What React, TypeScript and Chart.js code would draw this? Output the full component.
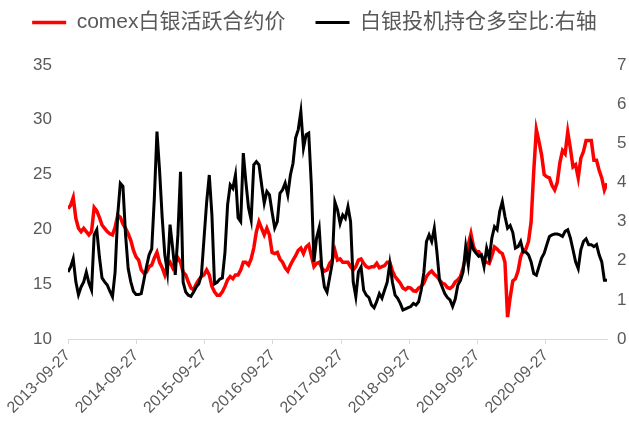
import React, { useEffect, useRef } from "react";
import { Chart, registerables } from "chart.js";

Chart.register(...registerables);

const FONT = '"Liberation Sans", "Noto Sans CJK SC", sans-serif';
const LEGEND_FONT = '"Liberation Sans Narrow", "Liberation Sans", "Noto Sans CJK SC", sans-serif';
const TEXT_COLOR = "#595959";

const startDate = "2013-09-27";
const stepDays = 14;
const tickLabels = [
  "2013-09-27", "2014-09-27", "2015-09-27", "2016-09-27",
  "2017-09-27", "2018-09-27", "2019-09-27", "2020-09-27",
];
const seriesNames = ["comex白银活跃合约价", "白银投机持仓多空比:右轴"];

// comex silver, left axis (one value every two weeks from startDate)
const silverPrice = [
  21.9, 22.2, 22.9, 21.0, 20.1, 19.8, 20.1, 19.8, 19.5, 19.8,
  22.0, 21.7, 21.1, 20.4, 20.1, 19.8, 19.6, 19.5, 20.2, 21.3,
  21.1, 20.5, 20.1, 19.6, 19.0, 18.1, 17.5, 17.2, 16.3, 16.0,
  16.1, 16.6, 16.75, 17.4, 17.9, 17.0, 16.5, 15.85, 16.75, 17.0,
  16.5, 17.0, 17.4, 17.0, 16.1, 15.85, 15.2, 14.65, 14.5, 15.0,
  15.4, 15.7, 15.85, 16.3, 15.85, 14.8, 14.3, 14.0, 14.0, 14.3,
  14.8, 15.4, 15.7, 15.5, 15.85, 15.85, 16.3, 17.0, 17.0, 16.75,
  17.3, 18.3, 19.8, 20.7, 20.1, 19.5, 20.1, 19.5, 17.9, 17.8,
  17.9, 17.3, 17.0, 16.5, 16.2, 16.75, 17.2, 17.6, 18.1, 18.3,
  17.8, 18.4, 18.6, 17.6, 16.6, 16.9, 17.0, 16.5, 16.2, 16.3,
  16.9, 17.2, 18.1, 17.2, 17.3, 17.0, 17.0, 17.0, 16.6, 16.3,
  16.6, 17.2, 17.3, 16.9, 16.6, 16.5, 16.6, 16.6, 16.9, 16.5,
  16.6, 16.7, 17.0, 17.0, 16.2, 15.7, 15.4, 15.1, 14.65, 14.5,
  14.7, 14.65, 14.4, 14.35, 14.65, 14.8, 15.1, 15.7, 16.0, 16.2,
  15.9, 15.7, 15.4, 15.1, 15.0, 14.7, 14.6, 14.8, 15.2, 15.4,
  15.7, 16.5, 17.4, 18.6, 19.6, 18.4, 17.95, 17.95, 17.6, 17.2,
  17.0, 16.9, 17.6, 18.4, 18.2, 17.95, 17.8, 17.0, 12.0, 13.8,
  15.3, 15.5, 16.2, 17.5, 18.1, 18.2, 18.9, 20.7, 25.3, 29.1,
  28.0, 26.8, 25.0, 24.8, 24.7, 24.0, 23.6, 24.3, 26.1, 27.2,
  26.9, 28.9, 27.4, 25.7, 25.9, 24.7, 26.5, 27.1, 28.1, 28.1,
  28.1, 26.3, 26.3, 25.4, 24.7, 23.6, 24.2,
];

// speculative long/short ratio, right axis
const specRatio = [
  1.71, 1.84, 2.05, 1.46, 1.13, 1.33, 1.46, 1.71, 1.43, 1.25,
  2.66, 2.79, 2.1, 1.56, 1.46, 1.38, 1.22, 1.08, 1.71, 3.17,
  3.98, 3.9, 2.66, 1.8, 1.46, 1.22, 1.14, 1.14, 1.16, 1.5,
  1.85, 2.15, 2.3, 3.6, 5.3, 4.3, 3.1, 2.15, 1.7, 2.92,
  2.32, 1.64, 2.66, 4.27, 1.45, 1.2, 1.12, 1.09, 1.2, 1.33,
  1.41, 1.64, 2.58, 3.5, 4.19, 3.17, 1.41, 1.45, 1.53, 1.56,
  2.22, 3.43, 3.94, 3.85, 4.19, 3.1, 3.0, 4.75, 4.0, 3.35,
  3.04, 4.45, 4.53, 4.45, 3.94, 3.47, 3.77, 3.68, 3.24, 2.84,
  3.0, 3.72, 3.81, 3.98, 3.68, 4.19, 4.49, 5.14, 5.35, 5.81,
  4.88, 5.22, 5.26, 3.94, 1.97, 2.58, 2.84, 1.8, 1.33, 1.2,
  1.57, 1.94, 3.5, 3.3, 2.95, 3.17, 3.08, 3.38, 3.0, 1.46,
  1.08, 1.72, 1.84, 1.25, 1.12, 1.06, 0.87, 0.8, 0.96, 1.16,
  1.04, 1.25, 1.45, 1.93, 1.45, 1.12, 1.04, 0.91, 0.74, 0.77,
  0.8, 0.83, 0.91, 0.87, 0.95, 1.25, 1.7, 2.49, 2.66, 2.49,
  2.83, 2.22, 1.5, 1.33, 1.16, 1.06, 1.0, 0.83, 1.02, 1.38,
  1.5, 1.72, 2.36, 1.89, 2.49, 2.28, 2.19, 2.11, 2.15, 1.85,
  2.32, 2.07, 2.58, 2.87, 2.79, 3.26, 3.51, 3.13, 2.83, 2.9,
  2.72, 2.32, 2.36, 2.49, 2.22, 2.22, 2.15, 1.97, 1.67, 1.63,
  1.85, 2.07, 2.19, 2.41, 2.62, 2.66, 2.68, 2.68, 2.66, 2.62,
  2.75, 2.79, 2.58, 2.28, 1.97, 1.8, 2.28, 2.49, 2.56, 2.41,
  2.41, 2.36, 2.41, 2.15, 1.97, 1.5, 1.5,
];

function dayOffset(label: string): number {
  return Math.round((Date.parse(label) - Date.parse(startDate)) / 86400000);
}

export default function App() {
  const ref = useRef<HTMLCanvasElement>(null);

  useEffect(() => {
    if (!ref.current) return;
    const xs = silverPrice.map((_, i) => i * stepDays);
    const tickDays = tickLabels.map(dayOffset);

    const legendSpacer = {
      id: "legendSpacer",
      beforeInit(chart: any) {
        const legend = chart.legend;
        if (!legend) return;
        const orig = legend.fit;
        legend.fit = function () {
          orig.call(this);
          this.height = 83;
        };
      },
    };

    const chart = new Chart(ref.current, {
      type: "line",
      data: {
        datasets: [
          {
            label: seriesNames[0],
            data: silverPrice.map((v, i) => ({ x: xs[i], y: v })),
            borderColor: "#ff0000",
            backgroundColor: "#ff0000",
            borderWidth: 3.5,
            pointRadius: 0,
            tension: 0,
            yAxisID: "y",
            order: 1,
          },
          {
            label: seriesNames[1],
            data: specRatio.map((v, i) => ({ x: xs[i], y: v })),
            borderColor: "#000000",
            backgroundColor: "#000000",
            borderWidth: 3,
            pointRadius: 0,
            tension: 0,
            yAxisID: "y1",
            order: 0,
          },
        ],
      },
      options: {
        responsive: false,
        animation: false,
        layout: { padding: { top: -18, left: 0, right: 0, bottom: 0 } },
        plugins: {
          legend: {
            display: true,
            position: "top",
            labels: {
              usePointStyle: true,
              pointStyle: "line",
              pointStyleWidth: 34,
              padding: 30,
              color: TEXT_COLOR,
              font: { size: 21, family: LEGEND_FONT },
              sort: (a: any, b: any) => a.datasetIndex - b.datasetIndex,
            },
          },
          tooltip: { enabled: false },
        },
        scales: {
          x: {
            type: "linear",
            min: 0,
            max: xs[xs.length - 1],
            afterBuildTicks: (s: any) => {
              s.ticks = tickDays.map((v) => ({ value: v }));
            },
            afterFit: (s: any) => {
              s.height = 100;
            },
            ticks: {
              autoSkip: false,
              minRotation: 45,
              maxRotation: 45,
              color: TEXT_COLOR,
              font: { size: 16, family: FONT },
              padding: 2,
              callback: (_v: any, i: number) => tickLabels[i],
            },
            grid: {
              display: true,
              drawOnChartArea: false,
              drawTicks: true,
              tickLength: 5,
              color: "#d9d9d9",
            },
            border: { display: true, color: "#d9d9d9" },
          },
          y: {
            position: "left",
            min: 10,
            max: 35,
            ticks: {
              stepSize: 5,
              color: TEXT_COLOR,
              font: { size: 17, family: FONT },
              padding: 16,
            },
            grid: { display: false, drawTicks: false },
            border: { display: false },
            afterFit: (s: any) => {
              s.width = 68;
            },
          },
          y1: {
            position: "right",
            min: 0,
            max: 7,
            ticks: {
              stepSize: 1,
              color: TEXT_COLOR,
              font: { size: 17, family: FONT },
              padding: 10,
            },
            grid: { display: false, drawTicks: false },
            border: { display: false },
            afterFit: (s: any) => {
              s.width = 22;
            },
          },
        },
      },
      plugins: [legendSpacer],
    } as any);

    return () => chart.destroy();
  }, []);

  return (
    <div style={{ position: "absolute", left: 0, top: 0, width: 629, height: 439, background: "#fff" }}>
      <canvas ref={ref} width={629} height={439} style={{ display: "block" }} />
    </div>
  );
}
